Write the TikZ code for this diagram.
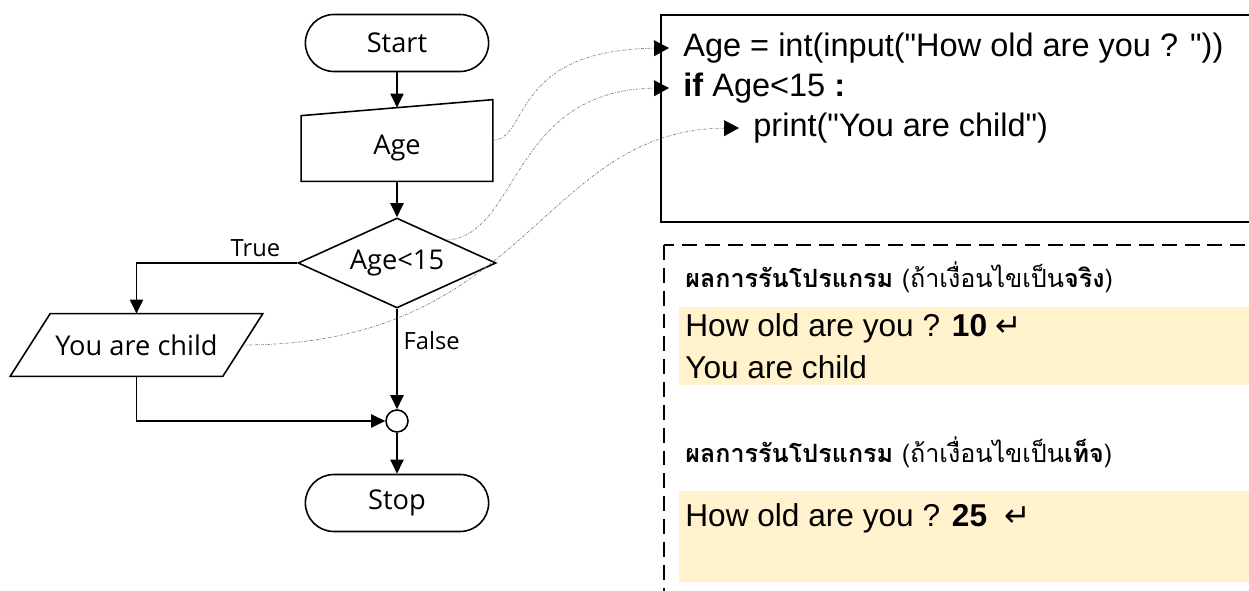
\documentclass[tikz,border=0pt]{standalone}
\usepackage{fontspec}
\setmainfont{Liberation Sans}[Ligatures=TeXOff]
\newfontfamily\flowfont{Open Sans}
\newfontfamily\thaifont[Script=Thai]{Loma}
\newfontfamily\symfont{DejaVu Sans}
\usepackage{tikz}
\usetikzlibrary{arrows.meta}
\usetikzlibrary{calc}
\usetikzlibrary{positioning}
\usetikzlibrary{shapes.geometric}
\usetikzlibrary{shapes.misc}
\definecolor{outbg}{RGB}{255,242,204}

\begin{document}
\begin{tikzpicture}[
    x=0.02cm, y=-0.02cm,
    flow/.style={line width=0.9pt, -{Triangle[length=8pt, width=7.5pt]}},
    link/.style={gray, line width=0.4pt,
      dash pattern=on 1.5pt off 0.8pt on 0.4pt off 0.8pt,
      -{Triangle[black, length=8.5pt, width=9pt]}},
    term/.style={draw, line width=0.9pt, rounded rectangle,
      minimum width=3.9cm, minimum height=1.14cm,
      font=\flowfont\fontsize{15.5}{18}\selectfont},
    box/.style={inner sep=0pt, font=\flowfont\fontsize{15.5}{18}\selectfont},
    decide/.style={draw, line width=0.9pt, diamond, inner sep=0pt, aspect=2.2,
      minimum width=3.96cm, minimum height=1.8cm,
      font=\flowfont\fontsize{15.5}{18}\selectfont},
    lbl/.style={font=\flowfont\fontsize{13.5}{16}\selectfont},
    code/.style={anchor=west, inner xsep=8pt, inner ysep=1pt,
      font=\fontsize{18.5}{22}\selectfont},
    head/.style={anchor=west, inner sep=0pt,
      font=\thaifont\fontsize{14.3}{17}\selectfont},
    outtxt/.style={anchor=west, inner sep=0pt,
      font=\fontsize{18}{22}\selectfont}
  ]

  \useasboundingbox (0,0) rectangle (1249,591);

  \fill [outbg] (679,307) rectangle (1262,385);
  \fill [outbg] (679,491) rectangle (1262,582);
  \draw [line width=0.9pt] (661,15) rectangle (1262,222);
  \draw [line width=0.7pt, dash pattern=on 8.5pt off 4.5pt]
  (664,245) rectangle (1262,600);

  \node [term] (start) at (397,43) {Start};
  \node [box, minimum width=3.82cm, minimum height=1.62cm,
  text height=19pt, text depth=3.5pt]
  (agein) at (397,140.5) {Age};
  \draw [line width=0.9pt] (agein.south west) -- (agein.south east)
  -- (agein.north east) -- ($(agein.north west)+(0,16)$) -- cycle;
  \coordinate (agetop) at ($(agein.north)+(0,8)$);
  \node [decide] (cond) at (397,263) {Age<15};
  \node [box, minimum width=4.24cm, minimum height=1.24cm]
  (child) at (136.5,345) {You are child};
  \draw [line width=0.9pt] ($(child.south west)+(-20,0)$)
  -- ($(child.south east)+(-20,0)$) -- ($(child.north east)+(20,0)$)
  -- ($(child.north west)+(20,0)$) -- cycle;
  \node [draw, line width=0.9pt, circle, inner sep=0pt, minimum size=0.44cm]
  (merge) at (397,421) {};
  \node [term] (stop) at (397,503) {Stop};

  \draw [flow] (start.south) -- (agetop);
  \draw [flow] (agein.south) -- (cond.north);
  \draw [flow] (cond.west) -| node [lbl, pos=0.13, above] {True} (child.north);
  \draw [flow] (cond.south) -- node [lbl, pos=0.32, right] {False} (merge.north);
  \draw [flow] (child.south) |- (merge.west);
  \draw [flow] (merge.south) -- (stop.north);

  \node [code] (codeA) at (669,48) {Age = int(input("How old are you ? "))};
  \node [code] (codeB) at (669,88) {\textbf{if} Age<15 \textbf{:}};
  \node [code] (codeC) at (739,128) {print("You are child")};

  \draw [link] (agein.east) .. controls (530,138) and (510,50) .. (codeA.west);
  \draw [link] (cond.north east) .. controls (520,235) and (510,90) .. (codeB.west);
  \draw [link] (child.east) .. controls (530,345) and (540,130) .. (codeC.west);

  \node [head] (headA) at (685,277)
  {\textbf{ผลการรันโปรแกรม} (ถ้าเงื่อนไขเป็น\textbf{จริง})};
  \node [outtxt] (outA) at (685,328)
  {How old are you ? \textbf{10} {\symfont ↵}};
  \node [outtxt] (outB) at (685,367) {You are child};
  \node [head] (headB) at (685,452)
  {\textbf{ผลการรันโปรแกรม} (ถ้าเงื่อนไขเป็น\textbf{เท็จ})};
  \node [outtxt] (outC) at (685,518)
  {How old are you ? \textbf{25}\ \ {\symfont ↵}};

\end{tikzpicture}
\end{document}
